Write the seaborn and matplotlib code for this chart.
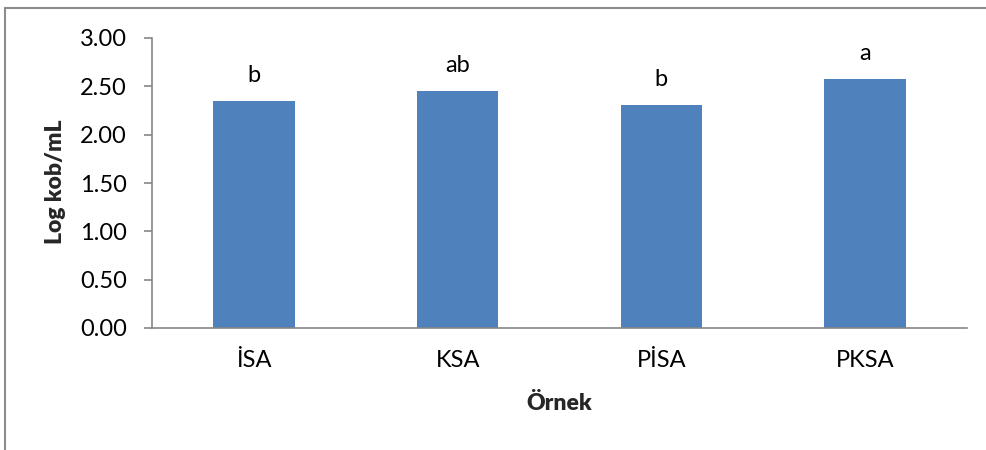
import matplotlib
matplotlib.use("Agg")
import matplotlib.pyplot as plt
import seaborn as sns
import pandas as pd
from matplotlib.lines import Line2D

# Sample groups and their mean counts
samples = ["İSA", "KSA", "PİSA", "PKSA"]
log_counts = [2.35, 2.45, 2.31, 2.58]
letters = ["b", "ab", "b", "a"]
y_ticks = [0.0, 0.5, 1.0, 1.5, 2.0, 2.5, 3.0]

df = pd.DataFrame({"Örnek": samples, "Log kob/mL": log_counts})

sns.set_theme(style="white")
plt.rcParams["font.family"] = ["Lato", "DejaVu Sans"]

W, H = 987, 450
fig = plt.figure(figsize=(W / 100, H / 100), dpi=100)
ax = fig.add_axes([152 / W, 1 - 328 / H, (967 - 152) / W, (328 - 38) / H])

sns.barplot(data=df, x="Örnek", y="Log kob/mL", color="#4F81BD",
            saturation=1, width=0.4, linewidth=0, ax=ax)

ax.set_ylim(0, 3.0)
ax.set_xlim(-0.5, len(samples) - 0.5)
ax.set_yticks(y_ticks)
ax.set_yticklabels([f"{v:.2f}" for v in y_ticks])

fs = 17
axis_grey = "#868686"
for side in ["top", "right"]:
    ax.spines[side].set_visible(False)
for side in ["left", "bottom"]:
    ax.spines[side].set_color(axis_grey)
    ax.spines[side].set_linewidth(1.2)

ax.tick_params(axis="y", which="both", direction="out", length=6, width=1.2,
               color=axis_grey, pad=12, labelsize=fs, labelcolor="black", left=True)
ax.tick_params(axis="x", length=0, pad=16, labelsize=fs, labelcolor="black")

# significance letters above each bar
for i, (v, lab) in enumerate(zip(log_counts, letters)):
    ax.annotate(lab, xy=(i, v), xytext=(0, 13.5), textcoords="offset points",
                ha="center", va="baseline", fontsize=fs, color="black")

ax.set_xlabel("")
ax.set_ylabel("")
fig.text(559.5 / W, 1 - 404 / H, "Örnek", ha="center", va="center",
         fontsize=16.5, fontweight="heavy")
fig.text(55 / W, 1 - 182 / H, "Log kob/mL", ha="center", va="center",
         rotation=90, fontsize=16.5, fontweight="heavy")

# outer chart frame (top and left edges)
frame_grey = "#8c8c8c"
fig.add_artist(Line2D([5 / W, 1.0], [1 - 7.5 / H, 1 - 7.5 / H], color=frame_grey,
                      lw=1.5, transform=fig.transFigure))
fig.add_artist(Line2D([5 / W, 5 / W], [0.0, 1 - 7.5 / H], color=frame_grey,
                      lw=1.5, transform=fig.transFigure))

fig.savefig("out.png", dpi=100, facecolor="white")
